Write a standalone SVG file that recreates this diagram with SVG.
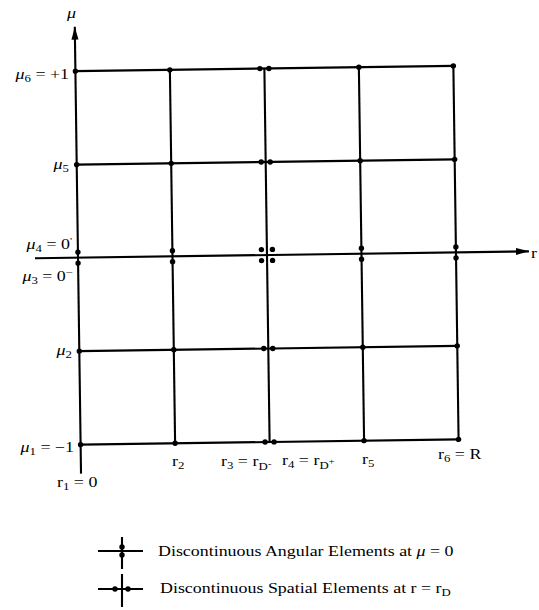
<svg xmlns="http://www.w3.org/2000/svg" width="539" height="610" viewBox="0 0 539 610">
<defs>
<style>
.ln{stroke:#000;stroke-width:2.1;fill:none;stroke-linecap:butt}
.dot{fill:#000}
text{font-family:"Liberation Serif","Times New Roman",serif;font-size:14px;fill:#000}
.it{font-style:italic}
.end{text-anchor:end}
</style>
<marker id="arr" markerUnits="userSpaceOnUse" markerWidth="14" markerHeight="8" refX="13" refY="4" orient="auto">
<path d="M0,0.5 L13,4 L0,7.5 Z" fill="#000"/>
</marker>
<circle id="d" r="2.7" class="dot"/>
</defs>
<rect width="539" height="610" fill="#fff"/>
<g transform="rotate(-0.8 267 256)">
<g id="connectors">
<line class="ln" x1="78" y1="471" x2="78" y2="24" marker-end="url(#arr)"/>
<line class="ln" x1="35" y1="255" x2="529" y2="255" marker-end="url(#arr)"/>
<line class="ln" x1="78" y1="68.5" x2="456" y2="68.5"/>
<line class="ln" x1="78" y1="162" x2="456" y2="162"/>
<line class="ln" x1="78" y1="348.5" x2="456" y2="348.5"/>
<line class="ln" x1="78" y1="442" x2="456" y2="442"/>
<line class="ln" x1="172.5" y1="68.5" x2="172.5" y2="442"/>
<line class="ln" x1="267" y1="68.5" x2="267" y2="442"/>
<line class="ln" x1="361.5" y1="68.5" x2="361.5" y2="442"/>
<line class="ln" x1="456" y1="68.5" x2="456" y2="442"/>
</g>
<g id="row-mu6">
<use href="#d" x="78" y="68.5"/><use href="#d" x="172.5" y="68.5"/><use href="#d" x="262.5" y="68.5"/><use href="#d" x="271.5" y="68.5"/><use href="#d" x="361.5" y="68.5"/><use href="#d" x="456" y="68.5"/>
</g>
<g id="row-mu5">
<use href="#d" x="78" y="162"/><use href="#d" x="172.5" y="162"/><use href="#d" x="262.5" y="162"/><use href="#d" x="271.5" y="162"/><use href="#d" x="361.5" y="162"/><use href="#d" x="456" y="162"/>
</g>
<g id="row-mu34">
<use href="#d" x="78" y="249.5"/><use href="#d" x="78" y="260.5"/>
<use href="#d" x="172.5" y="249.5"/><use href="#d" x="172.5" y="260.5"/>
<use href="#d" x="261.5" y="249.5"/><use href="#d" x="272.5" y="249.5"/><use href="#d" x="261.5" y="260.5"/><use href="#d" x="272.5" y="260.5"/>
<use href="#d" x="361.5" y="249.5"/><use href="#d" x="361.5" y="260.5"/>
<use href="#d" x="456" y="249.5"/><use href="#d" x="456" y="260.5"/>
</g>
<g id="row-mu2">
<use href="#d" x="78" y="348.5"/><use href="#d" x="172.5" y="348.5"/><use href="#d" x="262.5" y="348.5"/><use href="#d" x="271.5" y="348.5"/><use href="#d" x="361.5" y="348.5"/><use href="#d" x="456" y="348.5"/>
</g>
<g id="row-mu1">
<use href="#d" x="78" y="442"/><use href="#d" x="172.5" y="442"/><use href="#d" x="262.5" y="442"/><use href="#d" x="271.5" y="442"/><use href="#d" x="361.5" y="442"/><use href="#d" x="456" y="442"/>
</g>
</g>
<g id="label-mu-axis" transform="translate(67,18) scale(1.28 1)"><text class="it">μ</text></g>
<g id="label-r-axis" transform="translate(531,258) scale(1.28 1)"><text>r</text></g>
<g id="label-mu6" transform="translate(69,79) scale(1.28 1)"><text class="end"><tspan class="it">μ</tspan><tspan font-size="10" dy="3">6</tspan><tspan dy="-3"> = +1</tspan></text></g>
<g id="label-mu5" transform="translate(69,169) scale(1.28 1)"><text class="end"><tspan class="it">μ</tspan><tspan font-size="10" dy="3">5</tspan></text></g>
<g id="label-mu4" transform="translate(72,249) scale(1.28 1)"><text class="end"><tspan class="it">μ</tspan><tspan font-size="10" dy="3">4</tspan><tspan dy="-3"> = 0</tspan><tspan font-size="9" dy="-5">'</tspan></text></g>
<g id="label-mu3" transform="translate(73,281) scale(1.28 1)"><text class="end"><tspan class="it">μ</tspan><tspan font-size="10" dy="3">3</tspan><tspan dy="-3"> = 0</tspan><tspan font-size="10" dy="-5">−</tspan></text></g>
<g id="label-mu2" transform="translate(72,355) scale(1.28 1)"><text class="end"><tspan class="it">μ</tspan><tspan font-size="10" dy="3">2</tspan></text></g>
<g id="label-mu1" transform="translate(74,452) scale(1.28 1)"><text class="end"><tspan class="it">μ</tspan><tspan font-size="10" dy="3">1</tspan><tspan dy="-3"> = −1</tspan></text></g>
<g id="label-r1" transform="translate(57,487) scale(1.28 1)"><text>r<tspan font-size="10" dy="3">1</tspan><tspan dy="-3"> = 0</tspan></text></g>
<g id="label-r2" transform="translate(172,466) scale(1.28 1)"><text>r<tspan font-size="10" dy="3">2</tspan></text></g>
<g id="label-r3" transform="translate(221,466) scale(1.28 1)"><text>r<tspan font-size="10" dy="3">3</tspan><tspan dy="-3"> = r</tspan><tspan font-size="10" dy="4">D</tspan><tspan font-size="9" dy="-3">-</tspan></text></g>
<g id="label-r4" transform="translate(282,465) scale(1.28 1)"><text>r<tspan font-size="10" dy="3">4</tspan><tspan dy="-3"> = r</tspan><tspan font-size="10" dy="4">D</tspan><tspan font-size="8" dy="-5">+</tspan></text></g>
<g id="label-r5" transform="translate(362,464) scale(1.28 1)"><text>r<tspan font-size="10" dy="3">5</tspan></text></g>
<g id="label-r6" transform="translate(438,459) scale(1.28 1)"><text>r<tspan font-size="10" dy="3">6</tspan><tspan dy="-3"> = R</tspan></text></g>
<g id="legend-angular">
<line class="ln" x1="98" y1="551" x2="143" y2="551"/>
<line class="ln" x1="122" y1="537" x2="122" y2="569"/>
<use href="#d" x="122" y="547"/><use href="#d" x="122" y="555"/>
<g transform="translate(158,556) scale(1.28 1)"><text>Discontinuous Angular Elements at <tspan class="it">μ</tspan> = 0</text></g>
</g>
<g id="legend-spatial">
<line class="ln" x1="98" y1="589" x2="143" y2="589"/>
<line class="ln" x1="122" y1="574" x2="122" y2="607"/>
<use href="#d" x="115" y="589"/><use href="#d" x="128" y="589"/>
<g transform="translate(160,593) scale(1.28 1)"><text>Discontinuous Spatial Elements at  r = r<tspan font-size="10" dy="3">D</tspan></text></g>
</g>
</svg>
